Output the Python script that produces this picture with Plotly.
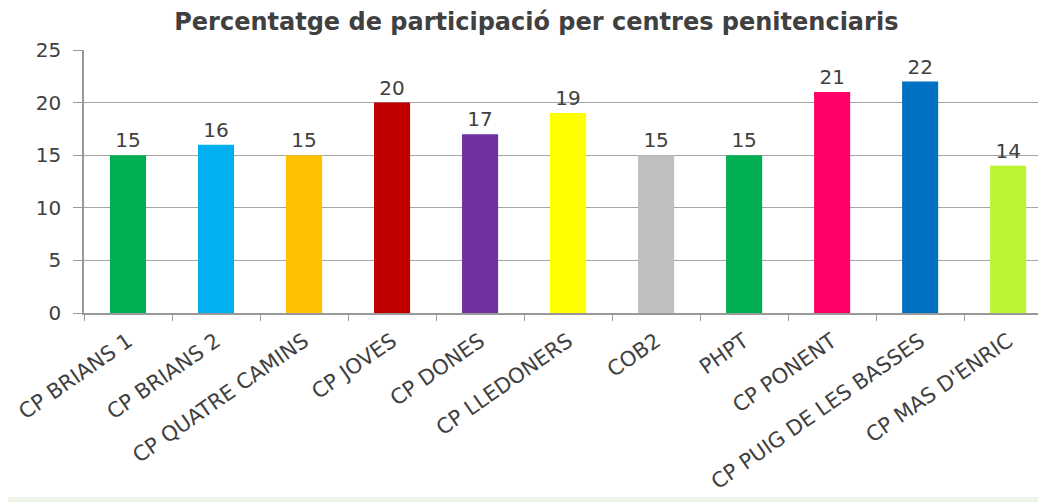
import plotly.graph_objects as go

categories = ["CP BRIANS 1", "CP BRIANS 2", "CP QUATRE CAMINS", "CP JOVES", "CP DONES",
              "CP LLEDONERS", "COB2", "PHPT", "CP PONENT", "CP PUIG DE LES BASSES",
              "CP MAS D'ENRIC"]
values = [15, 16, 15, 20, 17, 19, 15, 15, 21, 22, 14]
colors = ["#00B050", "#00B0F0", "#FFC000", "#C00000", "#7030A0", "#FFFF00",
          "#BFBFBF", "#00B050", "#FF0066", "#0070C0", "#BBF431"]
yticks = [0, 5, 10, 15, 20, 25]

txt = "#404040"
fnt = "DejaVu Sans, Verdana, Arial"
fig = go.Figure(go.Bar(
    x=categories, y=values, marker=dict(color=colors, line=dict(width=0)),
    width=0.41, text=[str(v) for v in values], textposition="outside",
    textfont=dict(family=fnt, size=20, color=txt),
    cliponaxis=False,
))

fig.update_layout(
    width=1038, height=494,
    margin=dict(l=76, r=0, t=42, b=189, autoexpand=False),
    paper_bgcolor="white", plot_bgcolor="white",
    showlegend=False,
    title=dict(text="<b>Percentatge de participació per centres penitenciaris</b>",
               x=0.509, xanchor="center", y=1.0, yanchor="top", yref="container",
               pad=dict(t=5, b=0, l=0, r=0),
               font=dict(family=fnt, size=24, color=txt)),
    xaxis=dict(type="category", range=[-0.5, 10.43], tickangle=-35,
               tickson="boundaries", ticks="outside", ticklen=6, tickcolor="#999999",
               showline=True, linecolor="#999999", linewidth=1.5, showgrid=False,
               automargin=False, ticklabelstandoff=6,
               tickfont=dict(family=fnt, size=21, color=txt)),
    yaxis=dict(range=[0, 25], tickvals=yticks, ticks="outside", ticklen=9,
               tickcolor="#999999", showline=True, linecolor="#999999", linewidth=1.5,
               showgrid=True, gridcolor="#A6A6A6", gridwidth=1, zeroline=False,
               automargin=False, ticklabelstandoff=8,
               tickfont=dict(family=fnt, size=20, color=txt)),
    shapes=[dict(type="rect", xref="paper", yref="paper", x0=-0.1, x1=1.1,
                 y0=-189/263, y1=-184/263, fillcolor="#EEF5E8", line=dict(width=0),
                 layer="below")],
)

fig.write_html("out.html")
